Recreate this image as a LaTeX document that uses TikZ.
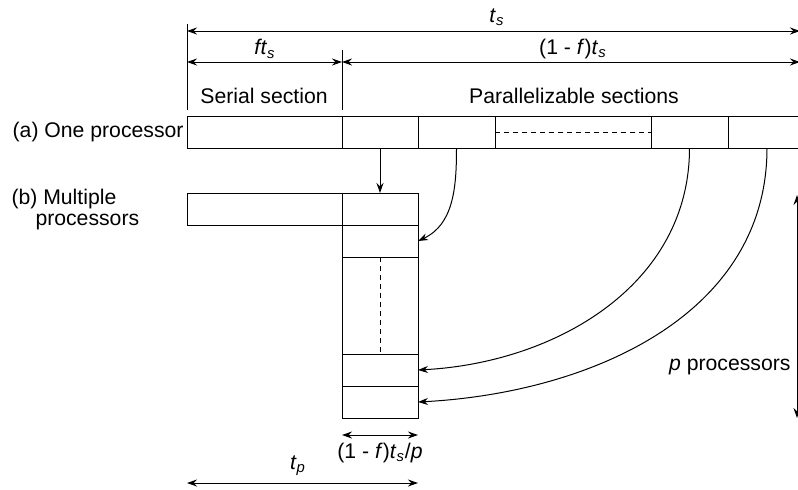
\documentclass[tikz,border=0pt]{standalone}
\usepackage{fontspec}
\setmainfont{Liberation Sans}
\usetikzlibrary{arrows.meta}
\newcommand{\tsub}[1]{\textit{t}\textsubscript{\textit{#1}}}
\tikzset{
  cell/.style={draw, minimum height=16pt, inner sep=0pt, outer sep=0pt},
  dim/.style={{Stealth[length=5pt,width=3.5pt]}-{Stealth[length=5pt,width=3.5pt]}},
  move/.style={-{Stealth[length=5pt,width=3.5pt]}},
}
\begin{document}
\begin{tikzpicture}[x=0.5pt,y=-0.5pt,line width=0.5pt,font=\fontsize{10.6}{12}\selectfont]
\useasboundingbox (0,0) rectangle (798,489);
\node[cell, minimum width=77.5pt] (a0) at (264.5,132) {};
\node[cell, minimum width=38pt] (a1) at (380,132) {};
\node[cell, minimum width=38.5pt] (a2) at (456.5,132) {};
\node[cell, minimum width=78pt] (a3) at (573,132) {};
\node[cell, minimum width=38.5pt] (a4) at (689.5,132) {};
\node[cell, minimum width=39pt] (a5) at (767,132) {};
\draw[dashed, dash pattern=on 2.5pt off 2pt] (a3.west) -- (a3.east);
\node[cell, minimum width=77.5pt] (b0) at (264.5,209) {};
\node[cell, minimum width=38pt] (p1) at (380,209) {};
\node[cell, minimum width=38pt] (p2) at (380,241) {};
\node[cell, minimum width=38pt, minimum height=48.5pt] (pd) at (380,305.5) {};
\node[cell, minimum width=38pt] (p3) at (380,370) {};
\node[cell, minimum width=38pt] (p4) at (380,402) {};
\draw[dashed, dash pattern=on 2.5pt off 2pt] (pd.north) -- (pd.south);
\draw[move] (a1.south) -- (p1.north);
\draw[move] (a2.south) to[out=-90, in=25] (p2.east);
\draw[move] (a4.south) to[out=-90, in=3] (p3.east);
\draw[move] (a5.south) to[out=-90, in=3] (p4.east);
\coordinate (lt) at (187,24);
\coordinate (lb) at (187,110);
\coordinate (mt) at (342,50);
\coordinate (mb) at (342,110);
\coordinate (ts1) at (187,31);
\coordinate (ts2) at (800,31);
\coordinate (fs1) at (187,62);
\coordinate (fs2) at (342,62);
\coordinate (fs3) at (800,62);
\draw (lt) -- (lb);
\draw (mt) -- (mb);
\draw[dim] (ts1) -- (ts2);
\draw[dim] (fs1) -- (fs2);
\draw[dim] (fs2) -- (fs3);
\node (ts) at (497,17) {\tsub{s}};
\node (fts) at (265,49) {\textit{f}\kern-0.8pt\tsub{s}};
\node (rts) at (573,49) {(1 - \textit{f})\tsub{s}};
\node (ser) at (264,96) {Serial section};
\node (par) at (574,96) {Parallelizable sections};
\node[anchor=east, inner sep=0pt] (one) at (184,132) {(a) One processor};
\node[anchor=west, inner sep=0pt, align=left, font=\fontsize{10.6}{10.5}\selectfont] (mul) at (11,210) {(b) Multiple\\\hspace*{12pt}processors};
\coordinate (w1) at (342,435);
\coordinate (w2) at (418,435);
\draw[dim] (w1) -- (w2);
\node (wl) at (380,453) {(1 - \textit{f})\tsub{s}/\textit{p}};
\coordinate (tp1) at (187,483);
\coordinate (tp2) at (418,483);
\draw[dim] (tp1) -- (tp2);
\node (tp) at (298,466) {\tsub{p}};
\coordinate (pt) at (797,195);
\coordinate (pb) at (797,418);
\draw[dim] (pt) -- (pb);
\node[anchor=east, inner sep=0pt] (pp) at (791,367) {\textit{p} processors};
\end{tikzpicture}
\end{document}
